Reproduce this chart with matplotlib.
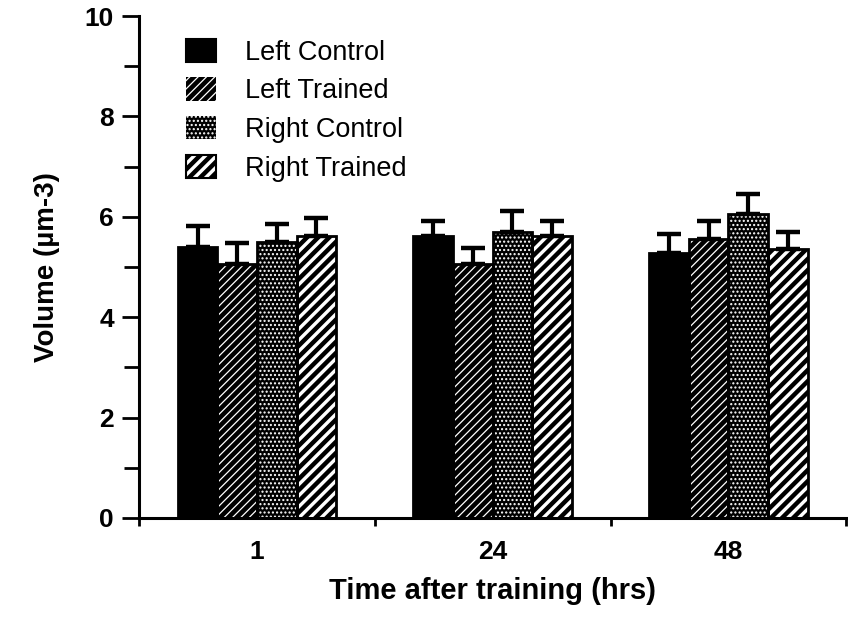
import matplotlib
matplotlib.use("Agg")
import matplotlib.pyplot as plt
from matplotlib.patches import Patch
from matplotlib.legend_handler import HandlerPatch
import numpy as np

plt.rcParams['font.family'] = ['Liberation Sans', 'DejaVu Sans']

# Data
times = ["1", "24", "48"]
series = ["Left Control", "Left Trained", "Right Control", "Right Trained"]
left_control = [5.40, 5.62, 5.28]
left_trained = [5.06, 5.06, 5.56]
right_control = [5.50, 5.70, 6.06]
right_trained = [5.62, 5.62, 5.36]
left_control_err = [0.42, 0.30, 0.38]
left_trained_err = [0.42, 0.32, 0.36]
right_control_err = [0.36, 0.42, 0.40]
right_trained_err = [0.36, 0.30, 0.34]

values = [left_control, left_trained, right_control, right_trained]
errors = [left_control_err, left_trained_err, right_control_err, right_trained_err]

# fill colour, hatch pattern, hatch colour, hatch line width
styles = [
    ("black", None, "black", 1.0),
    ("black", "////", "white", 0.9),
    ("black", "....", "white", 1.0),
    ("white", "///", "black", 3.2),
]

fig = plt.figure(figsize=(8.48, 6.18), dpi=100)
ax = fig.add_axes([0.164, 0.162, 0.834, 0.812])

centers = np.arange(len(times)) + 0.5
width = 0.168


def make_patch(face, hatch, hcolor, hlw, factory):
    with plt.rc_context({'hatch.linewidth': hlw, 'hatch.color': hcolor}):
        obj = factory(face, hcolor if hatch else face, hatch)
    patches = obj if hasattr(obj, "patches") else [obj]
    for p in patches:
        if hasattr(p, "set_hatch_linewidth"):
            p.set_hatch_linewidth(hlw)
    return obj


class HatchWidthHandler(HandlerPatch):
    """Legend patch handler that keeps the hatch line width of the handle."""

    def create_artists(self, legend, orig_handle, xdescent, ydescent,
                       width, height, fontsize, trans):
        artists = super().create_artists(legend, orig_handle, xdescent, ydescent,
                                         width, height, fontsize, trans)
        if hasattr(orig_handle, "get_hatch_linewidth"):
            for a in artists:
                a.set_hatch_linewidth(orig_handle.get_hatch_linewidth())
        return artists


for i, (vals, errs, st) in enumerate(zip(values, errors, styles)):
    x = centers + (i - 1.5) * width
    face, hatch, hcolor, hlw = st
    make_patch(face, hatch, hcolor, hlw,
               lambda f, e, h: ax.bar(x, vals, width, color=f, edgecolor=e,
                                      hatch=h, linewidth=0, zorder=2))
    ax.bar(x, vals, width, facecolor="none", edgecolor="black", linewidth=2.0, zorder=3)
    ax.errorbar(x, vals, yerr=[np.zeros(len(errs)), errs], fmt="none",
                ecolor="black", elinewidth=3.0, capsize=8.5, capthick=3.2, zorder=4)

ax.set_ylim(0, 10)
ax.set_xlim(0, 2.985)

ax.spines['top'].set_visible(False)
ax.spines['right'].set_visible(False)
ax.spines['left'].set_linewidth(2.2)
ax.spines['bottom'].set_linewidth(2.2)

ax.set_yticks([0, 2, 4, 6, 8, 10])
ax.set_yticks([1, 3, 5, 7, 9], minor=True)
ax.tick_params(axis='y', which='major', direction='out', length=12, width=2,
               labelsize=19, pad=6)
ax.tick_params(axis='y', which='minor', direction='out', length=11, width=2)
for lab in ax.get_yticklabels():
    lab.set_fontweight('bold')

ax.set_xticks([0, 1, 2, 3])
ax.set_xticklabels([])
ax.set_xticks(centers, minor=True)
ax.set_xticklabels(times, minor=True)
ax.tick_params(axis='x', which='major', direction='out', length=6, width=2)
ax.tick_params(axis='x', which='minor', length=0, labelsize=19, pad=16)
for lab in ax.get_xticklabels(minor=True):
    lab.set_fontweight('bold')

ax.set_xlabel("Time after training (hrs)", fontsize=21, fontweight='bold', labelpad=9)
ax.set_ylabel("Volume (µm-3)", fontsize=20, fontweight='bold', labelpad=18)

handles = [make_patch(face, hatch, hcolor, hlw,
                      lambda f, e, h: Patch(facecolor=f, edgecolor=e if h else "black",
                                            hatch=h, linewidth=0 if h and f == "black" else 1.5))
           for face, hatch, hcolor, hlw in styles]
leg = ax.legend(handles, series, loc="upper left", bbox_to_anchor=(0.066, 0.955),
                frameon=False, fontsize=19.5, handlelength=1.1, handleheight=0.95,
                handletextpad=1.1, labelspacing=0.43, borderpad=0, borderaxespad=0,
                handler_map={Patch: HatchWidthHandler()})

fig.savefig("out.png", dpi=100)
